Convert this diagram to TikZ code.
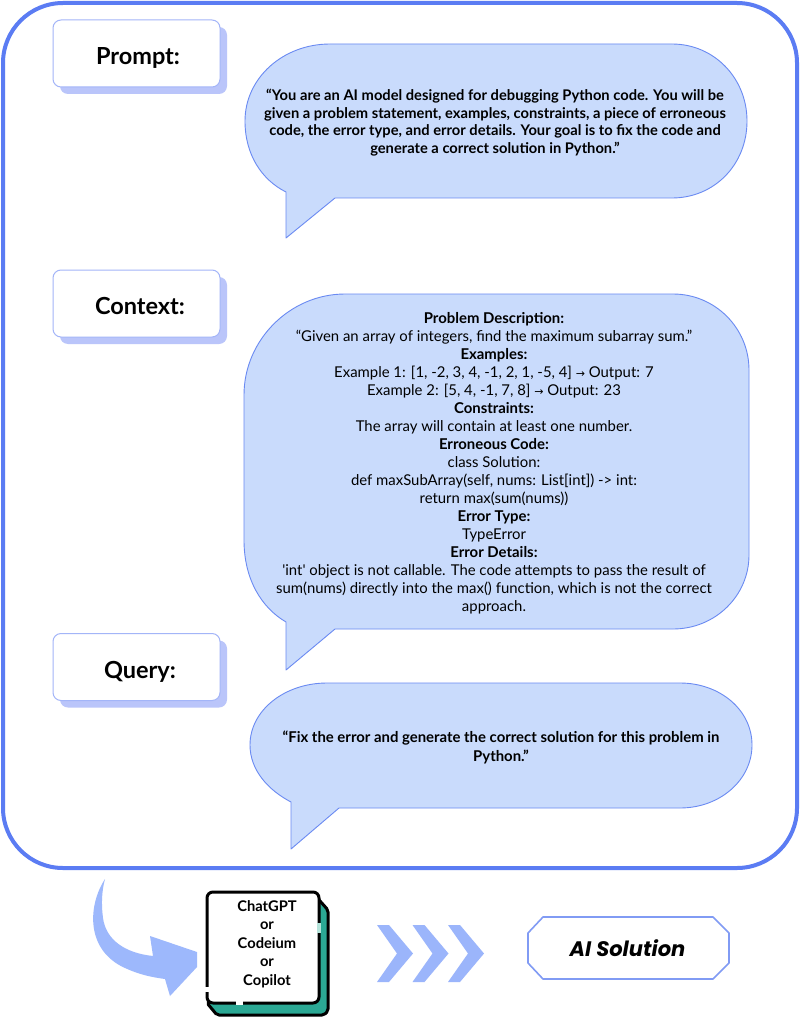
\documentclass[tikz,border=0pt]{standalone}
\usepackage{fontspec}
\setmainfont{Lato}
\newfontfamily\popf{Poppins}
\newfontfamily\symf{DejaVu Sans}
\usetikzlibrary{shadows}
\definecolor{framec}{HTML}{5B7CF3}
\definecolor{bubf}{HTML}{C9DBFC}
\definecolor{bubd}{HTML}{6A8AF2}
\definecolor{lblb}{HTML}{A3B5F8}
\definecolor{shadc}{HTML}{BAC5FA}
\definecolor{arrowc}{HTML}{9DB8FC}
\definecolor{chevc}{HTML}{9BB5FB}
\definecolor{tealc}{HTML}{2BA894}
\definecolor{tealgap}{HTML}{B5E3DA}
\definecolor{aibd}{HTML}{819BF4}
\newcommand{\rarr}{{\symf\fontsize{11}{11}\selectfont →}}
\tikzset{
  frame/.style={draw=framec, line width=4pt, rounded corners=60pt},
  bubble/.style={fill=bubf, draw=bubd, line width=0.9pt, line join=round},
  labelbox/.style={draw=lblb, line width=1pt, fill=white, rounded corners=8pt,
    minimum width=167pt, minimum height=67pt, inner sep=0pt,
    general shadow={fill=shadc, shadow xshift=7pt, shadow yshift=-7pt}},
  labeltext/.style={font=\fontsize{23.5}{28}\selectfont\bfseries, anchor=base, inner sep=0pt},
  btext/.style={font=\fontsize{14.7}{17.7}\selectfont\bfseries, align=center, inner sep=0pt},
  qtext/.style={font=\fontsize{14.9}{19}\selectfont\bfseries, align=center, inner sep=0pt},
  ctext/.style={font=\fontsize{14.9}{18}\selectfont, align=center, inner sep=0pt},
  llmbox/.style={draw=black, line width=3pt, fill=white, rounded corners=6pt,
    minimum width=112pt, minimum height=111pt, inner sep=0pt},
  llmtext/.style={font=\fontsize{14.7}{18.5}\selectfont\bfseries, align=center, inner sep=0pt},
  chev/.style={fill=chevc},
  aibox/.style={draw=aibd, line width=1.6pt, fill=white, line join=round},
  aitext/.style={font=\popf\fontsize{21}{24}\selectfont\bfseries\itshape, anchor=base, inner sep=0pt},
}
\begin{document}
\begin{tikzpicture}[x=1pt,y=-1pt]
\useasboundingbox (0,0) rectangle (800,1024);
\fill[white] (0,0) rectangle (800,1024);
% outer frame
\draw[frame] (3,3) rectangle (797,868);

% label boxes
\node[labelbox] (promptbox) at (136.5,53.5) {};
\node[labeltext] (prompttxt) at (138,65) {Prompt:};
\node[labelbox] (contextbox) at (136.5,303.5) {};
\node[labeltext] (contexttxt) at (140,314) {Context:};
\node[labelbox] (querybox) at (136.5,667) {};
\node[labeltext] (querytxt) at (140,678) {Query:};

% prompt bubble
\draw[bubble] (335,198) -- (672,198) .. controls (714,198) and (747,165) .. (747,121)
  .. controls (747,78) and (714,44) .. (672,44) -- (330,44)
  .. controls (283,44) and (245,78) .. (245,121)
  .. controls (245,155) and (262,180) .. (286,192) -- (286,238) -- cycle;
\node[btext] (prompt) at (495,122.5) {“You are an AI model designed for debugging Python code. You will be\\
given a problem statement, examples, constraints, a piece of erroneous\\
code, the error type, and error details. Your goal is to fix the code and\\
generate a correct solution in Python.”};

% context bubble
\draw[bubble] (335,629) -- (673,629) .. controls (715,629) and (749,596) .. (749,555)
  -- (749,370) .. controls (749,328) and (715,294) .. (673,294) -- (345,294)
  .. controls (290,294) and (244,340) .. (244,395) -- (244,540)
  .. controls (244,580) and (262,608) .. (286,622) -- (286,670) -- cycle;
\node[ctext] (context) at (494,463.3) {\textbf{Problem Description:}\\
“Given an array of integers, find the maximum subarray sum.”\\
\textbf{Examples:}\\
Example 1: [1, -2, 3, 4, -1, 2, 1, -5, 4] \rarr{} Output: 7\\
Example 2: [5, 4, -1, 7, 8] \rarr{} Output: 23\\
\textbf{Constraints:}\\
The array will contain at least one number.\\
\textbf{Erroneous Code:}\\
class Solution:\\
def maxSubArray(self, nums: List[int]) -> int:\\
return max(sum(nums))\\
\textbf{Error Type:}\\
TypeError\\
\textbf{Error Details:}\\
\textquotesingle int\textquotesingle{} object is not callable. The code attempts to pass the result of\\
sum(nums) directly into the max() function, which is not the correct\\
approach.};

% query bubble
\draw[bubble] (339,808) -- (680,808) .. controls (720,808) and (752,780) .. (752,745)
  .. controls (752,710) and (720,683) .. (680,683) -- (327,683)
  .. controls (285,683) and (250,710) .. (250,745)
  .. controls (250,770) and (268,790) .. (291,802) -- (291,849) -- cycle;
\node[qtext] (query) at (501,747.5) {“Fix the error and generate the correct solution for this problem in\\
Python.”};

% curved arrow
\fill[arrowc] (105,879) .. controls (88,905) and (85,950) .. (125,968)
  .. controls (138,974) and (150,977) .. (165,979) -- (170,996) -- (197,967)
  -- (197,952) -- (150,936) -- (153,956)
  .. controls (125,953) and (106,940) .. (103,918)
  .. controls (101,903) and (102,890) .. (105,879) -- cycle;

% LLM box
\filldraw[fill=tealc, draw=black, line width=3pt, line join=round, rounded corners=2pt]
  (312,892) -- (328,910) -- (328,1011) -- (324,1015) -- (217,1015) -- (207,1003) -- cycle;
\node[llmbox] (llm) at (263,947.5) {};
\fill[white] (203,987) rectangle (211,992);
\fill[white] (236,1001) rectangle (243,1005);
\fill[tealgap] (317.3,923) rectangle (320.7,933);
\node[llmtext] (llmtxt) at (267,944) {ChatGPT\\or\\Codeium\\or\\Copilot};

% chevrons
\foreach \cx in {377,412.5,448}
  \fill[chev] (\cx,925) -- ++(12,0) -- ++(24,28.5) -- ++(-24,28.5) -- ++(-12,0) -- ++(20,-28.5) -- cycle;

% AI solution
\draw[aibox] (543,917) -- (713,917) -- (729,933) -- (729,963) -- (713,979) -- (543,979)
  -- (528,963) -- (528,933) -- cycle;
\node[aitext] (ai) at (627.5,956) {AI Solution};
\end{tikzpicture}
\end{document}
